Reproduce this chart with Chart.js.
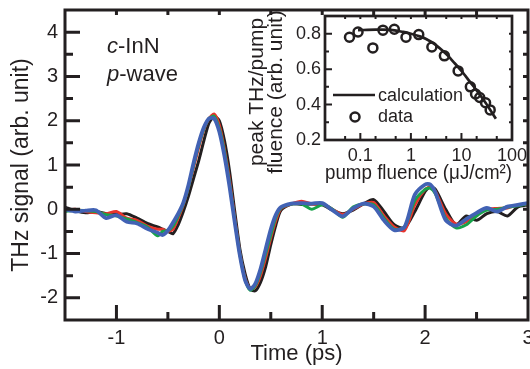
<!DOCTYPE html>
<html>
<head>
<meta charset="utf-8">
<script src="https://cdn.jsdelivr.net/npm/chart.js@4.4.1/dist/chart.umd.min.js"></script>
<style>
  html, body { margin: 0; padding: 0; background: #fff; }
  #wrap { position: relative; width: 530px; height: 369px; overflow: hidden; }
  #mainChart { position: absolute; left: 0; top: 0; }
  #insetChart { position: absolute; left: 236px; top: 0; }
</style>
</head>
<body>
<div id="wrap">
  <canvas id="mainChart" width="530" height="369"></canvas>
  <canvas id="insetChart" width="294" height="190"></canvas>
</div>
<script>
// --- main panel: THz waveforms ---
const timePs = [-1.5, -1.4, -1.3, -1.2, -1.1, -1.0, -0.9, -0.8, -0.7, -0.6,
  -0.55, -0.5, -0.45, -0.4, -0.35, -0.3, -0.25, -0.2, -0.15, -0.1, -0.05, 0,
  0.05, 0.1, 0.15, 0.2, 0.25, 0.3, 0.35, 0.4, 0.45, 0.5, 0.55, 0.6,
  0.7, 0.8, 0.9, 1.0, 1.1, 1.2, 1.3, 1.4, 1.5, 1.6, 1.7, 1.8, 1.9, 2.0,
  2.05, 2.1, 2.2, 2.3, 2.4, 2.5, 2.6, 2.7, 2.8, 2.9, 3.0];

const blackSignal = [0.05, -0.03, -0.08, -0.05, -0.1, -0.12, -0.1, -0.2, -0.32, -0.4,
  -0.45, -0.5, -0.55, -0.35, -0.05, 0.3, 0.7, 1.1, 1.55, 1.95, 2.1, 2.0,
  1.55, 0.85, -0.05, -0.9, -1.45, -1.8, -1.84, -1.65, -1.3, -0.8, -0.35, -0.02,
  0.12, 0.11, 0.12, 0.1, -0.02, -0.1, -0.02, 0.12, 0.22, -0.05, -0.35, -0.42, -0.05, 0.4,
  0.5, 0.45, 0.0, -0.35, -0.15, -0.25, -0.1, -0.05, -0.15, 0.05, 0.1];

const redSignal = [-0.02, 0.0, -0.05, -0.08, -0.1, -0.05, -0.2, -0.25, -0.38, -0.45,
  -0.45, -0.5, -0.45, -0.2, 0.1, 0.5, 0.95, 1.4, 1.8, 2.05, 2.15, 1.9,
  1.35, 0.65, -0.2, -1.0, -1.55, -1.8, -1.75, -1.5, -1.1, -0.65, -0.25, 0.02,
  0.12, 0.18, 0.12, 0.12, 0.0, -0.12, 0.0, 0.12, 0.15, -0.15, -0.4, -0.48, 0.1, 0.45,
  0.5, 0.4, -0.1, -0.33, -0.28, -0.12, 0.0, 0.02, 0.03, 0.1, 0.12];

const greenSignal = [-0.05, -0.02, -0.03, -0.05, -0.12, -0.15, -0.22, -0.3, -0.4, -0.6,
  -0.5, -0.48, -0.38, -0.15, 0.12, 0.5, 1.0, 1.45, 1.82, 2.05, 2.1, 1.82,
  1.3, 0.58, -0.25, -1.02, -1.58, -1.83, -1.72, -1.42, -1.0, -0.58, -0.18, 0.03,
  0.12, 0.12, 0.0, 0.1, 0.0, -0.18, 0.05, 0.12, 0.1, -0.2, -0.45, -0.4, 0.2, 0.45,
  0.48, 0.35, -0.2, -0.42, -0.35, -0.15, -0.02, 0.0, 0.05, 0.08, 0.13];

const blueSignal = [0, -0.05, -0.03, -0.02, -0.2, -0.13, -0.28, -0.32, -0.44, -0.53,
  -0.58, -0.48, -0.3, -0.1, 0.15, 0.55, 1.05, 1.5, 1.85, 2.05, 2.05, 1.75,
  1.2, 0.5, -0.3, -1.05, -1.6, -1.8, -1.68, -1.35, -0.9, -0.45, -0.12, 0.05,
  0.13, 0.14, 0.13, 0.14, -0.02, -0.16, 0.02, 0.13, 0.06, -0.25, -0.47, -0.4, 0.33, 0.56,
  0.56, 0.38, -0.25, -0.37, -0.22, -0.08, 0.03, -0.05, 0.06, 0.1, 0.14];

const timeTicks = [-1, 0, 1, 2, 3];
const signalTicks = [-2, -1, 0, 1, 2, 3, 4];

// --- inset: peak THz / pump fluence vs pump fluence ---
const fluenceData = [0.061, 0.09, 0.177, 0.28, 0.47, 0.8, 1.43, 2.6, 4.6, 8.6, 15, 19, 23, 30, 37];
const ratioData = [0.78, 0.81, 0.72, 0.82, 0.825, 0.78, 0.795, 0.725, 0.675, 0.59, 0.50, 0.46, 0.44, 0.41, 0.37];
const fluenceCalc = [0.09, 0.2, 0.4, 0.7, 1, 1.5, 2, 3, 5, 7, 10, 15, 20, 30, 48];
const ratioCalc = [0.82, 0.823, 0.822, 0.81, 0.80, 0.785, 0.77, 0.74, 0.685, 0.64, 0.59, 0.525, 0.48, 0.41, 0.32];
const fluenceTicks = [0.1, 1, 10, 100];
const ratioTicks = [0.2, 0.4, 0.6, 0.8];
const insetYTitle = ['peak THz/pump', 'fluence (arb. unit)'];

const ink = '#231f20';
const fontFamily = '"Liberation Sans", Arial, Helvetica, sans-serif';

function toPoints(xs, ys) {
  return xs.map((x, i) => ({ x: x, y: ys[i] }));
}

// inward tick marks + box frame for the main panel
const mainFrame = {
  id: 'mainFrame',
  afterDraw(chart) {
    const { ctx, chartArea: a, scales: { x, y } } = chart;
    ctx.save();
    ctx.strokeStyle = ink;
    ctx.lineWidth = 3;
    ctx.beginPath();
    timeTicks.forEach(v => {
      [v, v - 0.5, v + 0.5].forEach((t, k) => {
        if (t <= x.min || t >= x.max) return;
        const px = x.getPixelForValue(t);
        const len = k === 0 ? 15 : 8;
        ctx.moveTo(px, a.bottom); ctx.lineTo(px, a.bottom - len);
        ctx.moveTo(px, a.top); ctx.lineTo(px, a.top + 5);
      });
    });
    signalTicks.forEach(v => {
      [v, v - 0.5, v + 0.5].forEach((s, k) => {
        if (s <= y.min || s >= y.max) return;
        const py = y.getPixelForValue(s);
        const len = k === 0 ? 15 : 8;
        ctx.moveTo(a.left, py); ctx.lineTo(a.left + len, py);
        ctx.moveTo(a.right, py); ctx.lineTo(a.right - 5, py);
      });
    });
    ctx.stroke();
    ctx.strokeRect(a.left, a.top, a.right - a.left, a.bottom - a.top);

    ctx.fillStyle = ink;
    ctx.textBaseline = 'alphabetic';
    ctx.font = 'italic 22px ' + fontFamily;
    ctx.fillText('c', 107, 53);
    let w = ctx.measureText('c').width;
    ctx.font = '22px ' + fontFamily;
    ctx.fillText('-InN', 107 + w, 53);
    ctx.font = 'italic 22px ' + fontFamily;
    ctx.fillText('p', 107, 81);
    w = ctx.measureText('p').width;
    ctx.font = '22px ' + fontFamily;
    ctx.fillText('-wave', 107 + w, 81);
    ctx.restore();
  }
};

// inward ticks, frame, y title and legend for the inset
const insetFrame = {
  id: 'insetFrame',
  afterDraw(chart) {
    const { ctx, chartArea: a, scales: { x, y } } = chart;
    ctx.save();
    ctx.strokeStyle = ink;
    ctx.lineWidth = 2;
    ctx.beginPath();
    fluenceTicks.concat([0.01]).forEach(d => {
      [d, d * 2, d * 5].forEach((f, k) => {
        if (f <= x.min || f >= x.max) return;
        const px = x.getPixelForValue(f);
        const len = k === 0 ? 7 : 4;
        ctx.moveTo(px, a.bottom); ctx.lineTo(px, a.bottom - len);
        ctx.moveTo(px, a.top); ctx.lineTo(px, a.top + 3);
      });
    });
    ratioTicks.forEach(v => {
      [v, v + 0.1].forEach((r, k) => {
        if (r <= y.min + 1e-6 || r >= y.max - 1e-6) return;
        const py = y.getPixelForValue(r);
        const len = k === 0 ? 7 : 4;
        ctx.moveTo(a.left, py); ctx.lineTo(a.left + len, py);
        ctx.moveTo(a.right, py); ctx.lineTo(a.right - 3, py);
      });
    });
    ctx.stroke();
    ctx.lineWidth = 2.7;
    ctx.strokeRect(a.left, a.top, a.right - a.left, a.bottom - a.top);

    ctx.fillStyle = ink;

    // y title, two rotated lines
    ctx.save();
    ctx.font = '21px ' + fontFamily;
    ctx.textAlign = 'center';
    ctx.textBaseline = 'alphabetic';
    ctx.translate(27, 92);
    ctx.rotate(-Math.PI / 2);
    insetYTitle.forEach((line, i) => ctx.fillText(line, 0, i * 19));
    ctx.restore();

    // legend
    const ds = chart.data.datasets;
    ctx.font = '18px ' + fontFamily;
    ctx.textBaseline = 'middle';
    ctx.lineWidth = 2.7;
    ctx.beginPath();
    ctx.moveTo(a.left + 8, a.top + 79);
    ctx.lineTo(a.left + 50, a.top + 79);
    ctx.stroke();
    ctx.fillText(ds[0].label, a.left + 53, a.top + 80);
    ctx.lineWidth = 2.5;
    ctx.beginPath();
    ctx.arc(a.left + 30, a.top + 101, 4.5, 0, Math.PI * 2);
    ctx.stroke();
    ctx.fillText(ds[1].label, a.left + 53, a.top + 101);
    ctx.restore();
  }
};

new Chart(document.getElementById('mainChart').getContext('2d'), {
  type: 'line',
  data: {
    datasets: [
      { label: 'blue', data: toPoints(timePs, blueSignal), borderColor: '#4262b4', borderWidth: 3.8 },
      { label: 'green', data: toPoints(timePs, greenSignal), borderColor: '#17a34a', borderWidth: 3 },
      { label: 'red', data: toPoints(timePs, redSignal), borderColor: '#e8332c', borderWidth: 3 },
      { label: 'black', data: toPoints(timePs, blackSignal), borderColor: ink, borderWidth: 3 }
    ]
  },
  options: {
    responsive: false,
    animation: false,
    layout: { padding: { top: 10, right: 2, left: 0, bottom: 0 } },
    elements: {
      point: { radius: 0 },
      line: { tension: 0.25, fill: false, borderJoinStyle: 'round', borderCapStyle: 'round' }
    },
    plugins: { legend: { display: false }, tooltip: { enabled: false } },
    scales: {
      x: {
        type: 'linear',
        min: -1.5,
        max: 3,
        afterBuildTicks: s => { s.ticks = timeTicks.map(v => ({ value: v })); },
        afterFit: s => { s.height = 49; s.paddingLeft = 0; s.paddingRight = 0; },
        grid: { display: false, drawTicks: false },
        border: { display: false },
        ticks: { padding: 6, color: ink, font: { family: fontFamily, size: 20 } },
        title: {
          display: true, text: 'Time (ps)', color: ink,
          font: { family: fontFamily, size: 22 }, padding: { top: 0, bottom: 2 }
        }
      },
      y: {
        min: -2.5,
        max: 4.5,
        afterBuildTicks: s => { s.ticks = signalTicks.map(v => ({ value: v })); },
        afterFit: s => { s.width = 65; s.paddingTop = 0; s.paddingBottom = 0; },
        grid: { display: false, drawTicks: false },
        border: { display: false },
        ticks: { padding: 7, color: ink, font: { family: fontFamily, size: 20 } },
        title: {
          display: true, text: 'THz signal (arb. unit)', color: ink,
          font: { family: fontFamily, size: 23 }, padding: { top: 8, bottom: 0 }
        }
      }
    }
  },
  plugins: [mainFrame]
});

new Chart(document.getElementById('insetChart').getContext('2d'), {
  type: 'scatter',
  data: {
    datasets: [
      {
        label: 'calculation', data: toPoints(fluenceCalc, ratioCalc), showLine: true,
        borderColor: ink, borderWidth: 2.7, pointRadius: 0, tension: 0.3
      },
      {
        label: 'data', data: toPoints(fluenceData, ratioData), showLine: false,
        borderColor: ink, backgroundColor: 'rgba(0,0,0,0)',
        pointRadius: 4.5, pointBorderWidth: 2.5, pointStyle: 'circle'
      }
    ]
  },
  options: {
    responsive: false,
    animation: false,
    layout: { padding: { top: 16, right: 18, left: 0, bottom: 0 } },
    plugins: { legend: { display: false }, tooltip: { enabled: false } },
    scales: {
      x: {
        type: 'logarithmic',
        min: 0.02,
        max: 100,
        afterBuildTicks: s => { s.ticks = fluenceTicks.map(v => ({ value: v })); },
        afterFit: s => { s.height = 50; s.paddingLeft = 0; s.paddingRight = 0; },
        grid: { display: false, drawTicks: false },
        border: { display: false },
        ticks: { padding: 5, color: ink, font: { family: fontFamily, size: 18 }, callback: v => String(v) },
        title: {
          display: true, text: 'pump fluence (μJ/cm²)', color: ink,
          font: { family: fontFamily, size: 20 }, padding: { top: 0, bottom: 5 }
        }
      },
      y: {
        min: 0.2,
        max: 0.9,
        afterBuildTicks: s => { s.ticks = ratioTicks.map(v => ({ value: v })); },
        afterFit: s => { s.width = 89; s.paddingTop = 0; s.paddingBottom = 0; },
        grid: { display: false, drawTicks: false },
        border: { display: false },
        ticks: { padding: 4, color: ink, font: { family: fontFamily, size: 18 }, callback: v => v.toFixed(1) },
        title: { display: false }
      }
    }
  },
  plugins: [insetFrame]
});
</script>
</body>
</html>
